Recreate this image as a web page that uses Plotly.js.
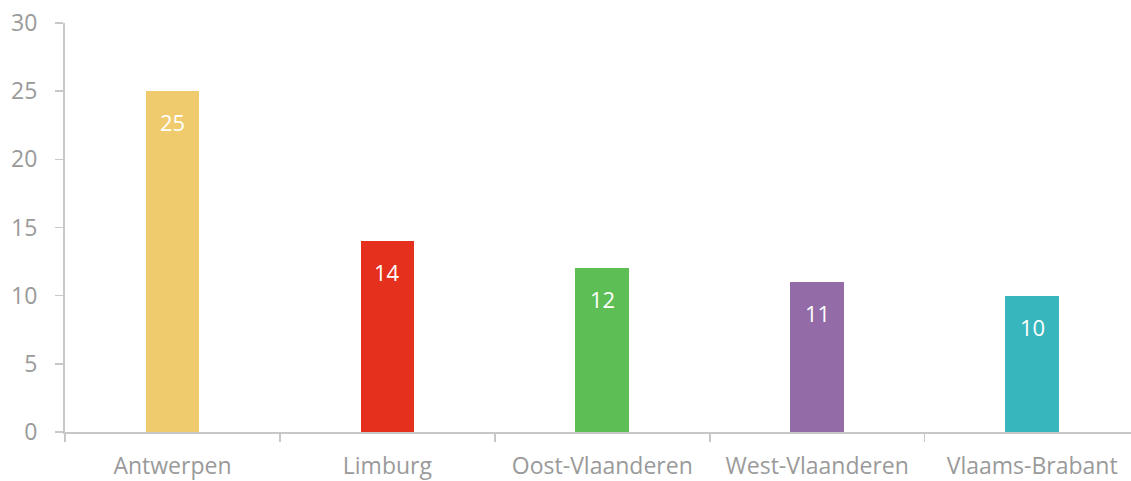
<!DOCTYPE html>
<html>
<head>
<meta charset="utf-8">
<script src="https://cdn.plot.ly/plotly-3.0.1.min.js"></script>
<style>html,body{margin:0;padding:0;background:#fff;}#chart{width:1131px;height:481px;}</style>
</head>
<body>
<div id="chart"></div>
<script>
const categories = ["Antwerpen", "Limburg", "Oost-Vlaanderen", "West-Vlaanderen", "Vlaams-Brabant"];
const values = [25, 14, 12, 11, 10];
const colors = ["#EFCB6E", "#E5301E", "#5DBE55", "#936BA6", "#37B6BD"];
const yTicks = [0, 5, 10, 15, 20, 25, 30];

const font = "'Open Sans', sans-serif";

const trace = {
  type: "bar",
  x: categories,
  y: values,
  width: 0.25,
  marker: {color: colors},
  hoverinfo: "skip"
};

const annotations = categories.map((c, i) => ({
  x: c, y: values[i], xref: "x", yref: "y",
  text: String(values[i]), showarrow: false,
  yshift: -31,
  font: {family: font, size: 22, color: "#ffffff"}
}));

const layout = {
  width: 1131, height: 481,
  margin: {l: 65, r: 0, t: 23, b: 49, pad: 0},
  paper_bgcolor: "#ffffff", plot_bgcolor: "#ffffff",
  showlegend: false,
  bargap: 0,
  xaxis: {
    type: "category",
    range: [-0.5, 4.46],
    showline: true, linecolor: "#c8c8c8", linewidth: 2,
    ticks: "outside", tickson: "boundaries", ticklen: 8, tickcolor: "#c8c8c8", tickwidth: 1.5,
    showgrid: false, zeroline: false,
    tickfont: {family: font, size: 23, color: "#9a9a9a"},
    ticklabelstandoff: 12
  },
  yaxis: {
    range: [0, 30],
    tickvals: yTicks,
    showline: true, linecolor: "#c8c8c8", linewidth: 2,
    ticks: "outside", ticklen: 8, tickcolor: "#c8c8c8", tickwidth: 1.5,
    showgrid: false, zeroline: false,
    tickfont: {family: font, size: 23, color: "#9a9a9a"},
    ticklabelstandoff: 13
  },
  annotations: annotations
};

Plotly.newPlot("chart", [trace], layout, {displayModeBar: false, staticPlot: true});
</script>
</body>
</html>
